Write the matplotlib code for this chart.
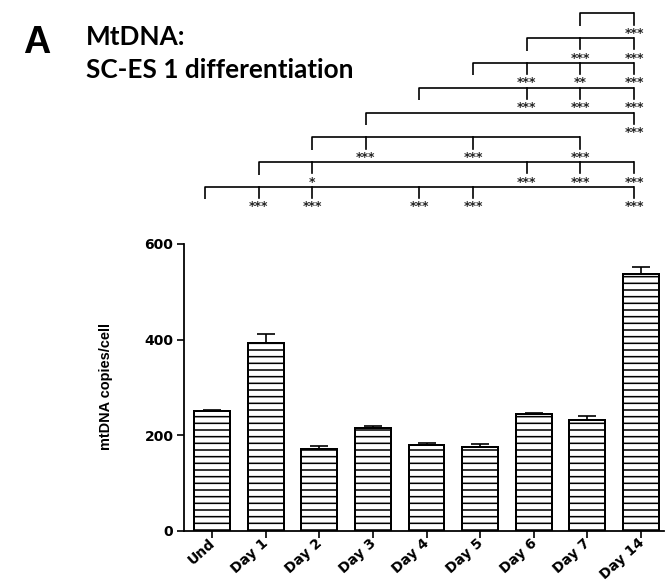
import matplotlib.pyplot as plt
import matplotlib.transforms as mtrans
import numpy as np

# mtDNA copy number over SC-ES 1 differentiation
groups = ['Und', 'Day 1', 'Day 2', 'Day 3', 'Day 4', 'Day 5', 'Day 6', 'Day 7', 'Day 14']
mtdna = [251, 392, 172, 215, 179, 176, 245, 232, 538]
sem = [3, 19, 6, 5, 6, 5, 2, 8, 13]

# significance brackets: reference group -> compared groups, stars
cmp_ref = [0, 1, 2, 3, 4, 5, 6, 7]
cmp_to = [[1, 2, 4, 5, 8], [2, 6, 7, 8], [3, 5, 7], [8], [6, 7, 8], [6, 7, 8], [7, 8], [8]]
cmp_stars = [['***', '***', '***', '***', '***'],
             ['*', '***', '***', '***'],
             ['***', '***', '***'],
             ['***'],
             ['***', '***', '***'],
             ['***', '**', '***'],
             ['***', '***'],
             ['***']]

W, H = 666, 583
plt.rcParams['hatch.linewidth'] = 1.4
plt.rcParams['hatch.color'] = 'black'
fig = plt.figure(figsize=(W / 80, H / 80), dpi=80)

# main axes, placed in pixel terms
L, R, B, T = 184, 664, 531, 244
ax = fig.add_axes([L / W, 1 - B / H, (R - L) / W, (B - T) / H])
x = np.arange(len(groups))
ax.bar(x, mtdna, width=0.67, color='white', edgecolor='black', linewidth=1.8,
       hatch='--', zorder=3)
ax.errorbar(x, mtdna, yerr=[np.zeros(len(sem)), sem], fmt='none', ecolor='black',
            elinewidth=1.5, capsize=8, capthick=1.5, zorder=2)

x0 = -(212 - L) / 53.6
x1 = 8 + (R - 641) / 53.6
ax.set_xlim(x0, x1)
ax.set_ylim(0, 600)
ax.set_yticks([0, 200, 400, 600])
ax.set_xticks(x)
ax.set_xticklabels(groups, rotation=42, ha='right', va='center_baseline',
                   rotation_mode='anchor', fontsize=12.5, fontweight='bold')
off = mtrans.ScaledTranslation(9 / 80, 0, fig.dpi_scale_trans)
for lab in ax.get_xticklabels():
    lab.set_transform(lab.get_transform() + off)
for lab in ax.get_yticklabels():
    lab.set_fontsize(12.5)
    lab.set_fontweight('bold')
ax.tick_params(axis='both', width=1.5, length=6, color='black')
ax.tick_params(axis='x', pad=2)
for s in ['top', 'right']:
    ax.spines[s].set_visible(False)
for s in ['left', 'bottom']:
    ax.spines[s].set_linewidth(1.6)
ax.set_ylabel('mtDNA copies/cell', family='Liberation Sans', fontweight='bold',
              fontsize=13)
ax.yaxis.set_label_coords((113 - L) / (R - L), (B - 386) / (B - T))

# bracket axes above the plot
bax = fig.add_axes([L / W, 1 - 215 / H, (R - L) / W, 215 / H])
shift = 7 / 53.6
bax.set_xlim(x0 + shift, x1 + shift)
bax.set_ylim(-1.13, 7.54)
bax.axis('off')
for lvl, (i, tos, stars) in enumerate(zip(cmp_ref, cmp_to, cmp_stars)):
    bax.plot([i, i, max(tos)], [lvl - 0.5, lvl, lvl], color='black', lw=1.5,
             solid_capstyle='butt', clip_on=False)
    for j, st in zip(tos, stars):
        bax.plot([j, j], [lvl, lvl - 0.45], color='black', lw=1.5, clip_on=False)
        bax.text(j, lvl - 0.8, st, ha='center', va='center', fontsize=11,
                 fontweight='bold', color='#222222', clip_on=False)

# panel letter and title
fig.text(23 / W, 1 - 53 / H, 'A', family='Liberation Sans', fontweight='bold',
         fontsize=34, va='baseline', ha='left')
fig.text(86 / W, 1 - 45 / H, 'MtDNA:', family='Lato', fontweight='bold',
         fontsize=23.5, va='baseline', ha='left')
fig.text(86 / W, 1 - 78 / H, 'SC-ES 1 differentiation', family='Lato',
         fontweight='bold', fontsize=23.5, va='baseline', ha='left')

fig.savefig('out.png', dpi=80)
